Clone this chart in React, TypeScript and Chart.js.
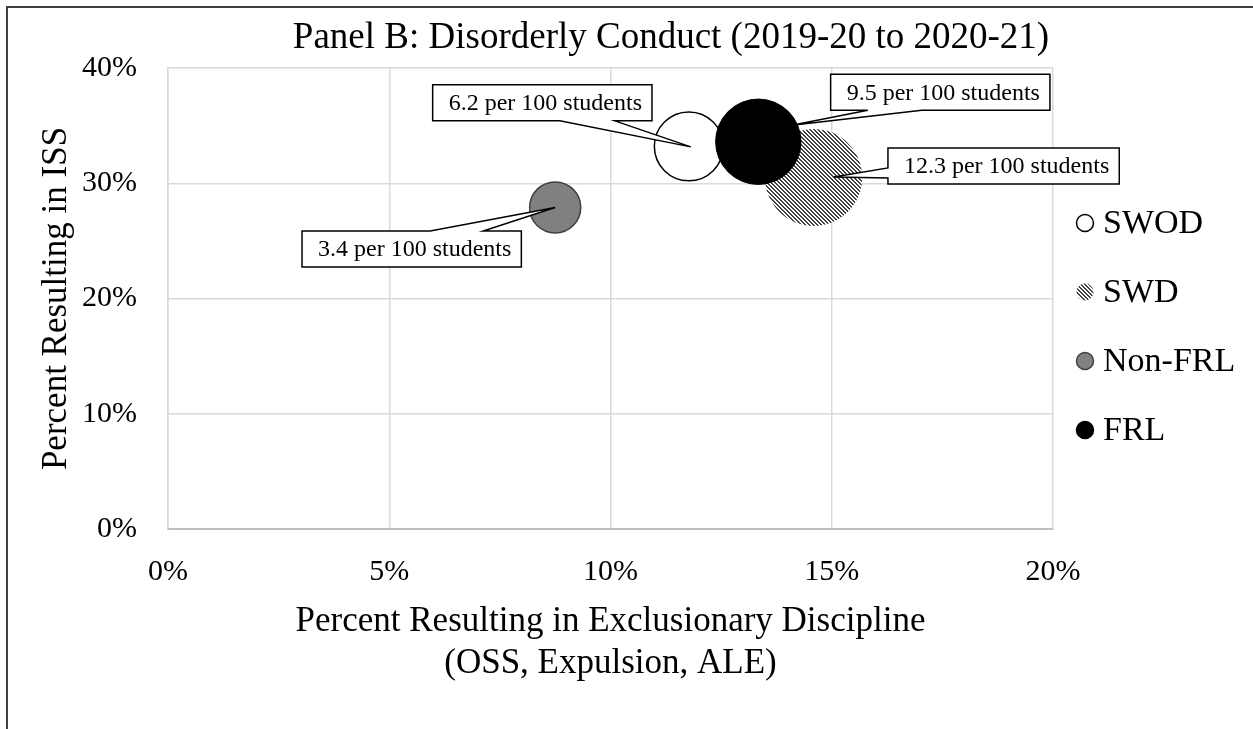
import React, { useEffect, useRef } from "react";
import { Chart, registerables } from "chart.js";

Chart.register(...registerables);

// ---------- data ----------
const SERIES = ["SWOD", "SWD", "Non-FRL", "FRL"];
const X_EXCLUSIONARY = [11.77, 14.59, 8.75, 13.34]; // % resulting in exclusionary discipline
const Y_ISS = [33.2, 30.5, 27.9, 33.6]; // % resulting in ISS
const PER_100 = [6.2, 12.3, 3.4, 9.5]; // incidents per 100 students (bubble size)
const X_TICKS = [0, 5, 10, 15, 20];
const Y_TICKS = [0, 10, 20, 30, 40];

const TITLE = "Panel B: Disorderly Conduct (2019-20 to 2020-21)";
const X_TITLE = ["Percent Resulting in Exclusionary Discipline", "(OSS, Expulsion, ALE)"];
const Y_TITLE = "Percent Resulting in ISS";

// ---------- styling / layout ----------
const FONT = "'Liberation Serif', 'Times New Roman', serif";
const BUBBLE_K = 13.85; // px per sqrt(size)

// callout layout relative to bubble centre (px)
const CALLOUTS = [
  { box: [-146.5, -43.5], side: "bottom", base: [17.5, 72.5], tip: [2, 0.5] },
  { box: [190, -11.5], side: "left", base: [2, 12], tip: [20, -0.5] },
  { box: [-143.5, 41.5], side: "top", base: [18.5, 71.5], tip: [0, 0] },
  { box: [182, -49.5], side: "bottom", base: [-72.5, -18.5], tip: [33.5, -16.5] },
];

function makeHatch(ctx: CanvasRenderingContext2D): CanvasPattern | string {
  const c = document.createElement("canvas");
  c.width = 4;
  c.height = 4;
  const g = c.getContext("2d")!;
  g.fillStyle = "#ffffff";
  g.fillRect(0, 0, 4, 4);
  g.fillStyle = "#404040";
  for (let y = 0; y < 4; y++) {
    for (let x = 0; x < 4; x++) {
      const d = (((x - y) % 4) + 4) % 4;
      if (d === 0 || d === 1) g.fillRect(x, y, 1, 1);
    }
  }
  return ctx.createPattern(c, "repeat") || "#808080";
}

const overlayPlugin = {
  id: "overlay",
  afterDraw(chart: any) {
    const ctx: CanvasRenderingContext2D = chart.ctx;
    ctx.save();
    // outer frame (left & top visible)
    ctx.fillStyle = "#404040";
    ctx.fillRect(6, 6, 2, chart.height);
    ctx.fillRect(6, 6, chart.width, 2);

    // title
    ctx.fillStyle = "#000";
    ctx.font = `37px ${FONT}`;
    ctx.textAlign = "center";
    ctx.textBaseline = "middle";
    ctx.fillText(TITLE, 671, 38);

    // callouts
    chart.data.datasets.forEach((ds: any, i: number) => {
      const el = chart.getDatasetMeta(i).data[0];
      if (!el) return;
      const cx = el.x;
      const cy = el.y;
      const c = CALLOUTS[i];
      ctx.font = `24px ${FONT}`;
      const text = `${PER_100[i]} per 100 students`;
      const w = ctx.measureText(text).width + 26;
      const h = 36;
      const bx = cx + c.box[0];
      const by = cy + c.box[1];
      const L = bx - w / 2, R = bx + w / 2, T = by - h / 2, B = by + h / 2;
      const tx = cx + c.tip[0], ty = cy + c.tip[1];
      ctx.beginPath();
      if (c.side === "bottom") {
        ctx.moveTo(L, T);
        ctx.lineTo(R, T);
        ctx.lineTo(R, B);
        ctx.lineTo(bx + c.base[1], B);
        ctx.lineTo(tx, ty);
        ctx.lineTo(bx + c.base[0], B);
        ctx.lineTo(L, B);
      } else if (c.side === "top") {
        ctx.moveTo(L, T);
        ctx.lineTo(bx + c.base[0], T);
        ctx.lineTo(tx, ty);
        ctx.lineTo(bx + c.base[1], T);
        ctx.lineTo(R, T);
        ctx.lineTo(R, B);
        ctx.lineTo(L, B);
      } else {
        ctx.moveTo(L, T);
        ctx.lineTo(R, T);
        ctx.lineTo(R, B);
        ctx.lineTo(L, B);
        ctx.lineTo(L, by + c.base[1]);
        ctx.lineTo(tx, ty);
        ctx.lineTo(L, by + c.base[0]);
      }
      ctx.closePath();
      ctx.fillStyle = "#ffffff";
      ctx.fill();
      ctx.lineWidth = 1.5;
      ctx.strokeStyle = "#000";
      ctx.lineJoin = "miter";
      ctx.stroke();
      ctx.fillStyle = "#000";
      ctx.textAlign = "left";
      ctx.textBaseline = "middle";
      ctx.fillText(text, L + 16, by + 1);
    });

    // legend
    SERIES.forEach((name, i) => {
      const ds = chart.data.datasets[i];
      const y = 223 + i * 69;
      ctx.beginPath();
      ctx.arc(1085, y, 8.5, 0, Math.PI * 2);
      ctx.fillStyle = ds.backgroundColor;
      ctx.fill();
      if (ds.borderWidth) {
        ctx.lineWidth = 1.5;
        ctx.strokeStyle = ds.borderColor;
        ctx.stroke();
      }
      ctx.fillStyle = "#000";
      ctx.font = `34px ${FONT}`;
      ctx.textAlign = "left";
      ctx.textBaseline = "middle";
      ctx.fillText(name, 1103, y + 1);
    });
    ctx.restore();
  },
};

export default function App() {
  const ref = useRef<HTMLCanvasElement>(null);

  useEffect(() => {
    const canvas = ref.current!;
    const ctx = canvas.getContext("2d")!;
    const hatch = makeHatch(ctx);
    const fills = ["#ffffff", hatch, "#808080", "#000000"];
    const borders = ["#000000", "rgba(0,0,0,0)", "#404040", "#000000"];
    const bw = [1.5, 0, 1.5, 1];
    const orders = [4, 3, 2, 1];

    const chart = new Chart(canvas, {
      type: "bubble",
      data: {
        datasets: SERIES.map((name, i) => ({
          label: name,
          data: [{ x: X_EXCLUSIONARY[i], y: Y_ISS[i], r: BUBBLE_K * Math.sqrt(PER_100[i]) }],
          backgroundColor: fills[i] as any,
          borderColor: borders[i],
          borderWidth: bw[i],
          order: orders[i],
        })),
      },
      options: {
        responsive: false,
        animation: false,
        devicePixelRatio: 1,
        events: [],
        layout: { padding: { left: 8, top: 68, right: 200, bottom: 0 } },
        plugins: {
          legend: { display: false },
          title: { display: false },
          tooltip: { enabled: false },
        },
        scales: {
          x: {
            type: "linear",
            min: 0,
            max: 20,
            afterBuildTicks: (s: any) => {
              s.ticks = X_TICKS.map((v) => ({ value: v }));
            },
            afterFit: (s: any) => {
              s.height = 200;
              s.paddingLeft = 0;
              s.paddingRight = 0;
            },
            ticks: {
              callback: (v: any) => `${v}%`,
              font: { family: FONT, size: 30, lineHeight: 1.2 },
              color: "#000",
              padding: 25,
              maxRotation: 0,
            },
            grid: { color: "#d9d9d9", lineWidth: 1.5, drawTicks: false },
            border: { color: "#bfbfbf", width: 2 },
            title: {
              display: true,
              text: X_TITLE,
              font: { family: FONT, size: 35, lineHeight: 1.2 },
              color: "#000",
              padding: { top: 0, bottom: 44 },
            },
          },
          y: {
            type: "linear",
            min: 0,
            max: 40,
            afterBuildTicks: (s: any) => {
              s.ticks = Y_TICKS.map((v) => ({ value: v }));
            },
            afterFit: (s: any) => {
              s.width = 160;
              s.paddingTop = 0;
              s.paddingBottom = 0;
            },
            ticks: {
              callback: (v: any) => `${v}%`,
              font: { family: FONT, size: 30, lineHeight: 1.2 },
              color: "#000",
              padding: 31,
            },
            grid: { color: "#d9d9d9", lineWidth: 1.5, drawTicks: false },
            border: { color: "#d9d9d9", width: 1.5 },
            title: {
              display: true,
              text: Y_TITLE,
              font: { family: FONT, size: 35, lineHeight: 1.2 },
              color: "#000",
              padding: { top: 28, bottom: 0 },
            },
          },
        },
      },
      plugins: [overlayPlugin],
    } as any);

    return () => chart.destroy();
  }, []);

  return (
    <div style={{ position: "fixed", left: 0, top: 0, width: 1253, height: 729, background: "#fff" }}>
      <canvas ref={ref} width={1253} height={729} style={{ display: "block", width: 1253, height: 729 }} />
    </div>
  );
}
